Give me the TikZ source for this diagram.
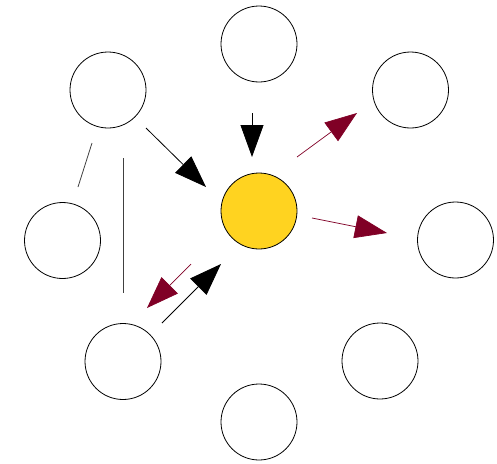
\documentclass[tikz,border=0pt]{standalone}
\usetikzlibrary{arrows.meta}
\definecolor{sunyellow}{RGB}{255,211,32}
\definecolor{darkred}{RGB}{128,0,38}
\begin{document}
\begin{tikzpicture}[x=1pt,y=-1pt,
  ring/.style={circle,draw=black,line width=0.8pt,minimum size=76pt,inner sep=0pt},
  hub/.style={ring,fill=sunyellow},
  blackarrow/.style={line width=0.8pt,-{Triangle[length=32pt,width=23pt]}},
  redarrow/.style={darkred,line width=0.7pt,-{Triangle[length=32pt,width=23pt]}},
  plainline/.style={line width=0.8pt,black!75}]
\useasboundingbox (0,0) rectangle (497,463);
\node[hub]  (c)  at (259,211) {};
\node[ring] (t)  at (259,44) {};
\node[ring] (tl) at (108,90) {};
\node[ring] (tr) at (410.5,90) {};
\node[ring] (l)  at (62.5,240.5) {};
\node[ring] (r)  at (455.5,240) {};
\node[ring] (bl) at (123,361.5) {};
\node[ring] (br) at (380,361) {};
\node[ring] (b)  at (259,422) {};
% free ends
\coordinate (a1s) at (146,128);  \coordinate (a1e) at (206,187);
\coordinate (a2s) at (252,113);  \coordinate (a2e) at (252,157);
\coordinate (a3s) at (297,157);  \coordinate (a3e) at (357,113);
\coordinate (a4s) at (312,218);  \coordinate (a4e) at (387,233);
\coordinate (a5s) at (191,264);  \coordinate (a5e) at (147,308);
\coordinate (a6s) at (162,323);  \coordinate (a6e) at (221,264);
\coordinate (l1s) at (92,143);   \coordinate (l1e) at (78,187);
\coordinate (l2s) at (123,158);  \coordinate (l2e) at (123,293);
\draw[blackarrow] (a1s) -- (a1e);
\draw[blackarrow] (a2s) -- (a2e);
\draw[redarrow] (a3s) -- (a3e);
\draw[redarrow] (a4s) -- (a4e);
\draw[redarrow] (a5s) -- (a5e);
\draw[blackarrow] (a6s) -- (a6e);
\draw[plainline] (l1s) -- (l1e);
\draw[plainline] (l2s) -- (l2e);
\end{tikzpicture}
\end{document}
